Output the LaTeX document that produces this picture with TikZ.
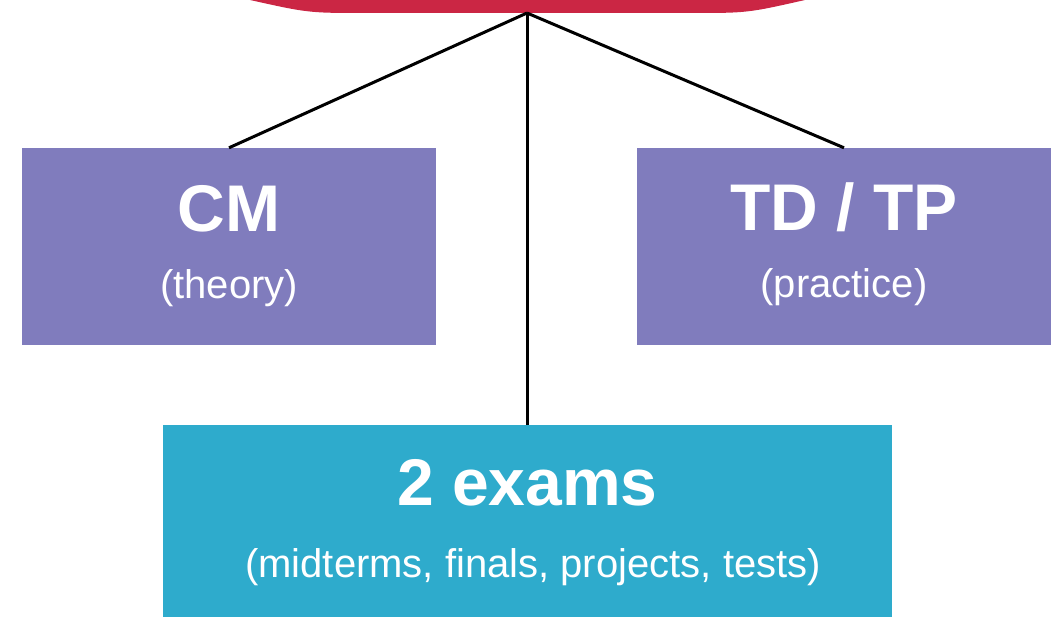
\documentclass[tikz,border=0pt]{standalone}
\usepackage{fontspec}
\setmainfont{Liberation Sans}
\definecolor{topred}{RGB}{203,38,68}
\definecolor{boxpurple}{RGB}{128,124,189}
\definecolor{boxcyan}{RGB}{46,171,204}
\tikzset{
  box/.style={rectangle, draw=none, inner sep=0pt, minimum width=414pt, minimum height=197pt},
  title/.style={text=white, anchor=base, inner sep=0pt, font=\fontsize{66}{66}\selectfont\bfseries},
  sub/.style={text=white, anchor=base, inner sep=0pt, font=\fontsize{40}{40}\selectfont},
  link/.style={draw=black, line width=3pt}
}
\begin{document}
\begin{tikzpicture}[x=1pt,y=-1pt]
\useasboundingbox (0,0) rectangle (1063,617);
\clip (0,0) rectangle (1063,617);
% top red shape (only its bottom shows)
\fill[topred] (230,-20) -- (250,0) .. controls (308.5,13) .. (367,13) -- (690,13)
   .. controls (747.5,13) .. (805,0) -- (825,-20) -- cycle;
\coordinate (topc) at (527,13);
% boxes
\node[box, fill=boxpurple] (cm) at (229,246.5) {};
\node[box, fill=boxpurple] (td) at (844,246.5) {};
\node[box, fill=boxcyan, minimum width=729pt, minimum height=194pt] (ex) at (527.5,522) {};
% texts
\node[title] (cmT) at (229,232) {CM};
\node[sub] (cmS) at (229,299) {(theory)};
\node[title] (tdT) at (844,231) {TD / TP};
\node[sub] (tdS) at (844,298) {(practice)};
\node[title] (exT) at (527.5,505) {2 exams};
\node[sub] (exS) at (533,577) {(midterms, finals, projects, tests)};
% connectors
\draw[link] (topc) -- (cm.north);
\draw[link] (topc) -- (td.north);
\draw[link] (topc) -- (topc |- ex.north);
\end{tikzpicture}
\end{document}
